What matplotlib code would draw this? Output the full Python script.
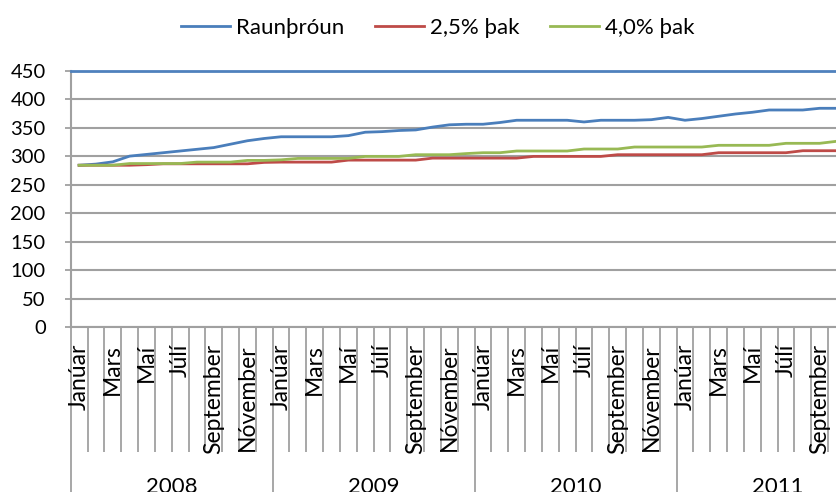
import numpy as np
import matplotlib
matplotlib.use("Agg")
import matplotlib.pyplot as plt
from matplotlib.transforms import blended_transform_factory

plt.rcParams['font.family'] = ['Lato', 'DejaVu Sans']

# monthly values, Jan 2008 - Oct 2011
raunthroun = [284, 286, 290, 300, 303, 306, 309, 312, 315, 321, 327, 331,
              334, 334, 334, 334, 336, 342, 343, 345, 346, 351, 355, 356,
              356, 359, 363, 363, 363, 363, 360, 363, 363, 363, 364, 368,
              363, 366, 370, 374, 377, 381, 381, 381, 384, 384]
thak_25 = [284, 284, 284, 284, 285, 286.5, 286.5, 286.5, 286.5, 286.5, 286.5, 289,
           289.5, 289.5, 289.5, 289.5, 293, 293, 293, 293, 293, 296.5, 296.5, 296.5,
           296.5, 296.5, 296.5, 299.5, 299.5, 299.5, 299.5, 299.5, 302.5, 302.5, 302.5, 302.5,
           302.5, 302.5, 306, 306, 306, 306, 306, 309.5, 309.5, 309.5]
thak_40 = [284, 284, 284, 287, 287, 287, 287, 289.5, 289.5, 289.5, 292.5, 292.5,
           293.5, 296, 296, 296, 296, 299.5, 299.5, 299.5, 302.5, 302.5, 302.5, 304.5,
           306, 306, 309, 309, 309, 309, 312.5, 312.5, 312.5, 316, 316, 316,
           316, 316, 319, 319, 319, 319, 322.5, 322.5, 322.5, 326]
months = ['Janúar', 'Febrúar', 'Mars', 'Apríl', 'Maí', 'Júní',
          'Júlí', 'Ágúst', 'September', 'Október', 'Nóvember', 'Desember']
years = ['2008', '2009', '2010', '2011']

W, H = 837, 492
fig = plt.figure(figsize=(W / 100, H / 100), dpi=100)
px_left, px_top, px_bottom = 70.7, 70.7, 327
month_px = 16.83
ax = fig.add_axes([px_left / W, (H - px_bottom) / H, 1 - px_left / W, (px_bottom - px_top) / H])

grid_c = '#A0A0A0'
x = np.arange(len(raunthroun))
ax.plot(x, raunthroun, color='#4A7EBB', lw=2, label='Raunþróun')
ax.plot(x, thak_25, color='#BE4B48', lw=2, label='2,5% þak')
ax.plot(x, thak_40, color='#98B954', lw=2, label='4,0% þak')

n_months = 12 * len(years)

# month separators and year separators below the axis
ax.set_xticks(np.arange(-0.5, n_months, 12))
ax.set_xticks(np.arange(-0.5, n_months, 1), minor=True)
ax.tick_params(axis='x', which='major', length=120, width=1.3, color=grid_c, labelbottom=False)
ax.tick_params(axis='x', which='minor', length=90, width=1.3, color=grid_c)

# chart is cut off on the right, as in the original
ax.set_xlim(-0.5, (W - px_left) / month_px - 0.5)
ax.set_ylim(0, 450)
ax.set_yticks(range(0, 451, 50))
ax.yaxis.grid(True, color=grid_c, lw=1.5)
ax.set_axisbelow(True)
ax.tick_params(axis='y', length=4, width=1.3, color=grid_c, pad=14, labelsize=14.5)

ax.spines['right'].set_visible(False)
ax.spines['top'].set_color('#4F81BD')
ax.spines['top'].set_linewidth(2)
ax.spines['left'].set_color(grid_c)
ax.spines['left'].set_linewidth(1.5)
ax.spines['bottom'].set_color(grid_c)
ax.spines['bottom'].set_linewidth(1.5)

trans = blended_transform_factory(ax.transData, ax.transAxes)
ax_h = px_bottom - px_top
for i in range(0, n_months, 2):
    ax.text(i, -17 / ax_h, months[i % 12], rotation=90, ha='center', va='top',
            fontsize=16.5, transform=trans, clip_on=False)
for k, yr in enumerate(years):
    ax.text(12 * k + 5.5, -150 / ax_h, yr, ha='center', va='top',
            fontsize=16, transform=trans, clip_on=False)

fig.legend(loc='upper center', bbox_to_anchor=(0.523, 1.005), ncol=3, frameon=False,
           fontsize=16, handlelength=2.2, handletextpad=0.25, columnspacing=1.4)

fig.savefig('out.png', dpi=100)
